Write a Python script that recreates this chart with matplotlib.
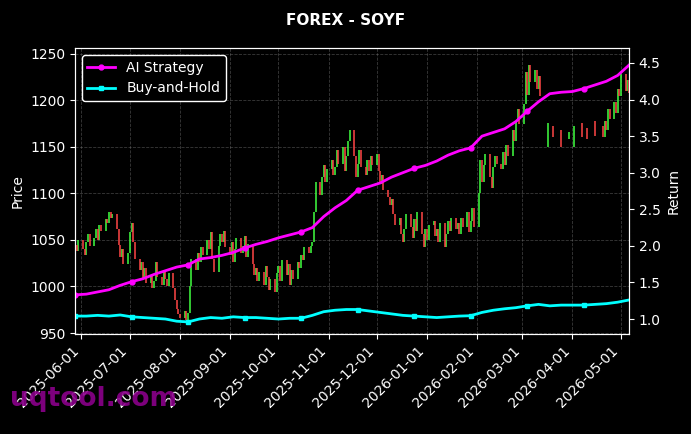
import numpy as np
import pandas as pd
import matplotlib
matplotlib.use("Agg")
import matplotlib.pyplot as plt
import matplotlib.dates as mdates

nan = np.nan

# ---- daily closes (business days 2025-05-28 .. 2026-05-06)
close_may25 = [1045, 1038, 1050]
close_jun = [1040, 1034, 1048, 1056, 1044, 1052, 1062, 1050, 1066, 1060,
             1072, 1068, 1080, 1074, 1078, 1062, 1045, 1032, 1040, 1024, 1036]
close_jul = [1058, 1068, 1048, 1030, 1018, 1026, 1008, 1020, 1004, 1012, 998, 1006,
             1026, 1010, 1002, 1018, 1008, 1000, 1014, 998, 986, 976, 970]
close_aug = [966, 974, 964, 972, 1000, 1030, 1018, 1036, 1026, 1042, 1034,
             1050, 1040, 1058, 1030, 1016, 1044, 1056, 1048, 1060, 1042]
close_sep = [1034, 1048, 1026, 1040, 1052, 1036, 1044, 1054, 1032, 1046, 1024,
             1012, 1020, 1006, 1016, 1002, 1022, 1010, 996, 1008, 994, 1014]
close_oct = [1022, 1006, 1028, 1012, 1024, 1002, 1018, 1008, 1026, 1020, 1034, 1028,
             1042, 1036, 1044, 1048, 1080, 1112, 1098, 1118, 1130, 1112, 1126]
close_nov = [1136, 1120, 1128, 1146, 1132, 1150, 1124, 1140, 1156, 1168,
             1140, 1118, 1132, 1146, 1128, 1120, 1136, 1124, 1140, 1130]
close_dec = [1142, 1124, 1110, 1120, 1104, 1096, 1088, 1094, 1078, 1066, 1074, 1056,
             1048, 1062, 1078, 1064, 1052, 1072, 1060, 1080, 1056, 1042, 1062]
close_jan = [1050, 1066, 1070, 1054, 1062, 1048, 1068, 1042, 1056, 1070, 1060,
             1074, 1062, 1068, 1056, 1074, 1064, 1080, 1058, 1070, 1084, 1064]
close_feb = [1100, 1136, 1112, 1130, 1142, 1118, 1106, 1128, 1140, 1132,
             1126, 1144, 1130, 1152, 1140, 1168, 1156, 1178, 1190, 1174]
close_mar = [1196, 1230, 1206, 1238, 1220, 1232, 1212, 1226, 1204, nan, 1150,
             1176, nan, 1172, 1160, nan, 1168, 1150, nan, 1158, 1166, nan]
close_apr = [1150, 1172, nan, 1176, 1160, nan, 1170, 1158, nan, 1178, 1162,
             nan, 1172, 1160, 1178, 1168, 1190, 1180, 1198, 1186, 1212, 1204]
close_may26 = [1228, 1210, 1222, 1208]

# ---- weekly cumulative returns
ai_return = [1.33, 1.34, 1.37, 1.40, 1.46, 1.51, 1.55, 1.61, 1.66, 1.71,
             1.74, 1.82, 1.84, 1.87, 1.91, 1.97, 2.02, 2.06, 2.11, 2.15,
             2.19, 2.25, 2.40, 2.52, 2.62, 2.76, 2.81, 2.86, 2.94, 3.00,
             3.06, 3.10, 3.16, 3.24, 3.30, 3.34, 3.50, 3.55, 3.60, 3.70,
             3.84, 3.97, 4.08, 4.10, 4.11, 4.15, 4.20, 4.25, 4.33, 4.47]
bh_return = [1.04, 1.04, 1.05, 1.04, 1.055, 1.03, 1.02, 1.01, 1.00, 0.97,
             0.96, 1.00, 1.02, 1.01, 1.03, 1.02, 1.02, 1.01, 1.00, 1.01,
             1.01, 1.05, 1.10, 1.12, 1.13, 1.13, 1.11, 1.09, 1.07, 1.05,
             1.04, 1.03, 1.02, 1.03, 1.04, 1.045, 1.09, 1.12, 1.14, 1.155,
             1.18, 1.20, 1.18, 1.19, 1.19, 1.19, 1.20, 1.21, 1.23, 1.26]

closes = np.array(close_may25 + close_jun + close_jul + close_aug + close_sep + close_oct +
                  close_nov + close_dec + close_jan + close_feb + close_mar + close_apr +
                  close_may26, dtype=float)
dates = pd.bdate_range("2025-05-28", "2026-05-06")
opens = np.r_[nan, closes[:-1]]
week_dates = dates[::5]

plt.style.use("dark_background")
fig = plt.figure(figsize=(6.91, 4.34), dpi=100)
fig.patch.set_facecolor("black")
ax = fig.add_axes([0.1085, 0.2304, 0.8017, 0.6590])
ax.set_facecolor("black")

ok = ~np.isnan(opens) & ~np.isnan(closes)
up = ok & (closes >= opens)
down = ok & (closes < opens)
lo = np.minimum(opens, closes)
hi = np.maximum(opens, closes)
ax.vlines(dates[up], lo[up], hi[up], color="#40ff40", linewidth=1.3, alpha=0.85)
ax.vlines(dates[down], lo[down], hi[down], color="#ff4545", linewidth=1.3, alpha=0.85)

ax.set_ylim(949, 1256)
ax.set_yticks(range(950, 1251, 50))
ax.set_ylabel("Price", color="white", fontsize=10)
ax.grid(True, linestyle="--", color="gray", alpha=0.45, linewidth=0.6)
ax.set_xlim(pd.Timestamp("2025-05-28"), pd.Timestamp("2026-05-06"))
ax.xaxis.set_major_locator(mdates.MonthLocator())
ax.xaxis.set_major_formatter(mdates.DateFormatter("%Y-%m-%d"))
plt.setp(ax.get_xticklabels(), rotation=45, ha="right", fontsize=10)

ax2 = ax.twinx()
l1, = ax2.plot(week_dates, ai_return, color="magenta", linewidth=2,
               marker="o", markersize=3.5, markevery=5, label="AI Strategy")
l2, = ax2.plot(week_dates, bh_return, color="cyan", linewidth=2,
               marker="s", markersize=3.5, markevery=5, label="Buy-and-Hold")
ax2.set_ylim(0.795, 4.705)
ax2.set_yticks([1.0, 1.5, 2.0, 2.5, 3.0, 3.5, 4.0, 4.5])
ax2.set_ylabel("Return", color="white", fontsize=10)

for a in (ax, ax2):
    for s in a.spines.values():
        s.set_color("white")
    a.tick_params(colors="white")

leg = ax2.legend(handles=[l1, l2], loc="upper left", fontsize=10,
                 facecolor="black", edgecolor="white", framealpha=1)
for t in leg.get_texts():
    t.set_color("white")

fig.suptitle("FOREX - SOYF", color="white", fontsize=11, fontweight="bold", y=0.97)
fig.text(0.014, 0.065, "uqtool.com", color="#8b008b", fontsize=19, fontweight="bold", alpha=0.9)

fig.savefig("out.png", dpi=100, facecolor="black")
